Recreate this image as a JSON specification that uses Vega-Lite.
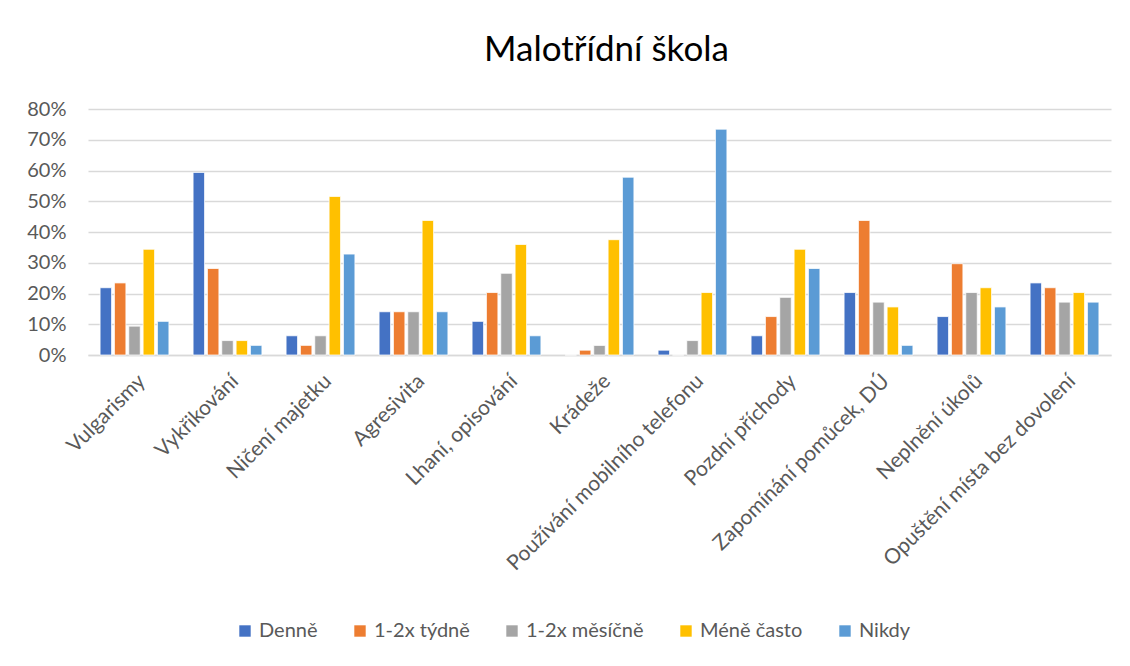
{
  "$schema": "https://vega.github.io/schema/vega-lite/v6.json",
  "autosize": {"type": "none"},
  "width": 1023,
  "height": 246,
  "padding": {"left": 88, "top": 109, "right": 19, "bottom": 311},
  "background": "white",
  "title": {
    "text": "Malotřídní škola",
    "font": "Lato",
    "fontSize": 35,
    "fontWeight": "normal",
    "color": "#000000",
    "anchor": "middle",
    "baseline": "alphabetic",
    "offset": 3,
    "dx": 7
  },
  "data": {
    "values": [
      {"kategorie": "Vulgarismy", "frekvence": "Denně", "podil": 0.2188},
      {"kategorie": "Vulgarismy", "frekvence": "1-2x týdně", "podil": 0.2344},
      {"kategorie": "Vulgarismy", "frekvence": "1-2x měsíčně", "podil": 0.0938},
      {"kategorie": "Vulgarismy", "frekvence": "Méně často", "podil": 0.3438},
      {"kategorie": "Vulgarismy", "frekvence": "Nikdy", "podil": 0.1094},
      {"kategorie": "Vykřikování", "frekvence": "Denně", "podil": 0.5938},
      {"kategorie": "Vykřikování", "frekvence": "1-2x týdně", "podil": 0.2813},
      {"kategorie": "Vykřikování", "frekvence": "1-2x měsíčně", "podil": 0.0469},
      {"kategorie": "Vykřikování", "frekvence": "Méně často", "podil": 0.0469},
      {"kategorie": "Vykřikování", "frekvence": "Nikdy", "podil": 0.0313},
      {"kategorie": "Ničení majetku", "frekvence": "Denně", "podil": 0.0625},
      {"kategorie": "Ničení majetku", "frekvence": "1-2x týdně", "podil": 0.0313},
      {"kategorie": "Ničení majetku", "frekvence": "1-2x měsíčně", "podil": 0.0625},
      {"kategorie": "Ničení majetku", "frekvence": "Méně často", "podil": 0.5156},
      {"kategorie": "Ničení majetku", "frekvence": "Nikdy", "podil": 0.3281},
      {"kategorie": "Agresivita", "frekvence": "Denně", "podil": 0.1406},
      {"kategorie": "Agresivita", "frekvence": "1-2x týdně", "podil": 0.1406},
      {"kategorie": "Agresivita", "frekvence": "1-2x měsíčně", "podil": 0.1406},
      {"kategorie": "Agresivita", "frekvence": "Méně často", "podil": 0.4375},
      {"kategorie": "Agresivita", "frekvence": "Nikdy", "podil": 0.1406},
      {"kategorie": "Lhaní, opisování", "frekvence": "Denně", "podil": 0.1094},
      {"kategorie": "Lhaní, opisování", "frekvence": "1-2x týdně", "podil": 0.2031},
      {"kategorie": "Lhaní, opisování", "frekvence": "1-2x měsíčně", "podil": 0.2656},
      {"kategorie": "Lhaní, opisování", "frekvence": "Méně často", "podil": 0.3594},
      {"kategorie": "Lhaní, opisování", "frekvence": "Nikdy", "podil": 0.0625},
      {"kategorie": "Krádeže", "frekvence": "Denně", "podil": 0},
      {"kategorie": "Krádeže", "frekvence": "1-2x týdně", "podil": 0.0156},
      {"kategorie": "Krádeže", "frekvence": "1-2x měsíčně", "podil": 0.0313},
      {"kategorie": "Krádeže", "frekvence": "Méně často", "podil": 0.375},
      {"kategorie": "Krádeže", "frekvence": "Nikdy", "podil": 0.5781},
      {"kategorie": "Používání mobilního telefonu", "frekvence": "Denně", "podil": 0.0156},
      {"kategorie": "Používání mobilního telefonu", "frekvence": "1-2x týdně", "podil": 0},
      {"kategorie": "Používání mobilního telefonu", "frekvence": "1-2x měsíčně", "podil": 0.0469},
      {"kategorie": "Používání mobilního telefonu", "frekvence": "Méně často", "podil": 0.2031},
      {"kategorie": "Používání mobilního telefonu", "frekvence": "Nikdy", "podil": 0.7344},
      {"kategorie": "Pozdní příchody", "frekvence": "Denně", "podil": 0.0625},
      {"kategorie": "Pozdní příchody", "frekvence": "1-2x týdně", "podil": 0.125},
      {"kategorie": "Pozdní příchody", "frekvence": "1-2x měsíčně", "podil": 0.1875},
      {"kategorie": "Pozdní příchody", "frekvence": "Méně často", "podil": 0.3438},
      {"kategorie": "Pozdní příchody", "frekvence": "Nikdy", "podil": 0.2813},
      {"kategorie": "Zapomínání pomůcek, DÚ", "frekvence": "Denně", "podil": 0.2031},
      {"kategorie": "Zapomínání pomůcek, DÚ", "frekvence": "1-2x týdně", "podil": 0.4375},
      {"kategorie": "Zapomínání pomůcek, DÚ", "frekvence": "1-2x měsíčně", "podil": 0.1719},
      {"kategorie": "Zapomínání pomůcek, DÚ", "frekvence": "Méně často", "podil": 0.1563},
      {"kategorie": "Zapomínání pomůcek, DÚ", "frekvence": "Nikdy", "podil": 0.0313},
      {"kategorie": "Neplnění úkolů", "frekvence": "Denně", "podil": 0.125},
      {"kategorie": "Neplnění úkolů", "frekvence": "1-2x týdně", "podil": 0.2969},
      {"kategorie": "Neplnění úkolů", "frekvence": "1-2x měsíčně", "podil": 0.2031},
      {"kategorie": "Neplnění úkolů", "frekvence": "Méně často", "podil": 0.2188},
      {"kategorie": "Neplnění úkolů", "frekvence": "Nikdy", "podil": 0.1563},
      {"kategorie": "Opuštění místa bez dovolení", "frekvence": "Denně", "podil": 0.2344},
      {"kategorie": "Opuštění místa bez dovolení", "frekvence": "1-2x týdně", "podil": 0.2188},
      {"kategorie": "Opuštění místa bez dovolení", "frekvence": "1-2x měsíčně", "podil": 0.1719},
      {"kategorie": "Opuštění místa bez dovolení", "frekvence": "Méně často", "podil": 0.2031},
      {"kategorie": "Opuštění místa bez dovolení", "frekvence": "Nikdy", "podil": 0.1719}
    ]
  },
  "mark": {"type": "bar", "stroke": "white", "strokeWidth": 0.75},
  "encoding": {
    "x": {
      "field": "kategorie",
      "type": "nominal",
      "sort": null,
      "title": null,
      "scale": {"paddingInner": 0.26, "paddingOuter": 0.13},
      "axis": {
        "labelAngle": -45,
        "labelAlign": "right",
        "labelBaseline": "top",
        "labelPadding": 15,
        "labelFont": "Lato",
        "labelFontSize": 21,
        "labelColor": "#595959",
        "labelLimit": 400,
        "ticks": false,
        "domainColor": "#D9D9D9",
        "domainWidth": 1.3
      }
    },
    "xOffset": {
      "field": "frekvence",
      "type": "nominal",
      "sort": ["Denně", "1-2x týdně", "1-2x měsíčně", "Méně často", "Nikdy"],
      "scale": {"paddingInner": 0.2}
    },
    "y": {
      "field": "podil",
      "type": "quantitative",
      "title": null,
      "scale": {"domain": [0, 0.8]},
      "axis": {
        "format": ".0%",
        "values": [0, 0.1, 0.2, 0.3, 0.4, 0.5, 0.6, 0.7, 0.8],
        "domain": false,
        "ticks": false,
        "labelPadding": 22,
        "labelFont": "Lato",
        "labelFontSize": 20,
        "labelColor": "#595959",
        "gridColor": "#D9D9D9",
        "gridWidth": 1.3
      }
    },
    "color": {
      "field": "frekvence",
      "type": "nominal",
      "title": null,
      "scale": {
        "domain": ["Denně", "1-2x týdně", "1-2x měsíčně", "Méně často", "Nikdy"],
        "range": ["#4472C4", "#ED7D31", "#A5A5A5", "#FFC000", "#5B9BD5"]
      },
      "legend": {
        "orient": "none",
        "direction": "horizontal",
        "legendX": 147,
        "legendY": 512,
        "symbolType": "square",
        "symbolSize": 130,
        "symbolStrokeWidth": 0,
        "labelFont": "Lato",
        "labelFontSize": 20,
        "labelColor": "#595959",
        "columnPadding": 32,
        "labelOffset": 4
      }
    }
  },
  "config": {"view": {"stroke": null}}
}
